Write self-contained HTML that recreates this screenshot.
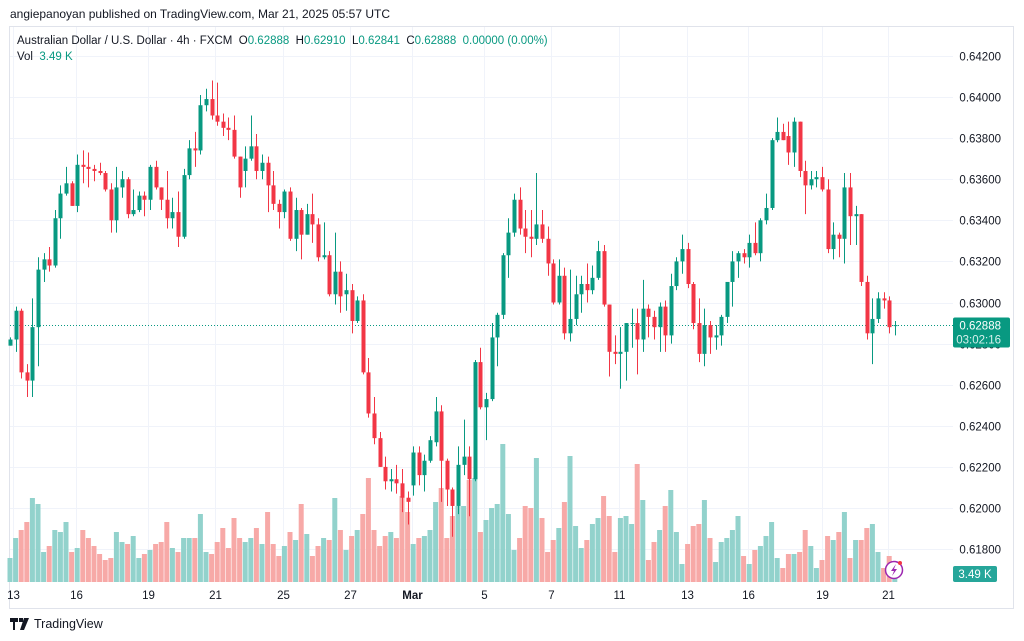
<!DOCTYPE html>
<html><head><meta charset="utf-8">
<style>
html,body{margin:0;padding:0;background:#fff;}
body{width:1024px;height:641px;overflow:hidden;position:relative;font-family:"Liberation Sans",sans-serif;color:#131722;}
#hdr{position:absolute;left:10px;top:7px;font-size:12px;color:#131722;}
#legend{position:absolute;left:17px;top:33px;font-size:11.5px;line-height:16px;color:#131722;}
#legend .g{color:#089981;}
#logo{position:absolute;left:10px;top:617px;font-size:12.5px;color:#131722;display:flex;align-items:center;gap:4px;}
svg{position:absolute;left:0;top:0;}
</style></head>
<body>
<div id="hdr">angiepanoyan published on TradingView.com, Mar 21, 2025 05:57 UTC</div>
<svg id="chart" width="1024" height="641"></svg>
<div id="legend">
<div>Australian Dollar / U.S. Dollar · 4h · FXCM &nbsp;O<span class="g">0.62888</span>&nbsp; H<span class="g">0.62910</span>&nbsp; L<span class="g">0.62841</span>&nbsp; C<span class="g">0.62888</span>&nbsp; <span class="g">0.00000 (0.00%)</span></div>
<div>Vol &nbsp;<span class="g">3.49 K</span></div>
</div>
<div id="logo"><svg width="20" height="12" style="position:static" viewBox="0 0 20 12"><path d="M0 0h8v4H5v8H3V4H0z M9 0h4v4H9z M14 0h5l-5 12h-4z" fill="#131722"/></svg><span>TradingView</span></div>
<script>
// prices in units of 0.0001 (e.g. 6289 = 0.62890)
const opens=[6279,6282,6296,6266,6262,6288,6316,6321,6318,6341,6353,6358,6347,6367,6366,6365,6364,6363,6355,6340,6356,6360,6343,6345,6352,6350,6366,6356,6350,6341,6344,6332,6362,6375,6374,6396,6399,6391,6388,6385,6384,6371,6364,6370,6376,6364,6368,6357,6348,6344,6354,6331,6345,6333,6343,6338,6322,6323,6304,6315,6304,6306,6291,6301,6266,6246,6234,6220,6213,6214,6212,6205,6211,6227,6216,6223,6232,6247,6223,6209,6201,6221,6225,6214,6271,6249,6253,6283,6294,6323,6334,6350,6336,6332,6331,6338,6331,6319,6300,6313,6285,6292,6304,6309,6306,6312,6325,6299,6276,6275,6276,6290,6290,6282,6297,6293,6288,6298,6284,6308,6320,6326,6309,6290,6275,6289,6283,6284,6293,6310,6320,6324,6322,6329,6324,6340,6346,6379,6383,6381,6373,6388,6364,6357,6360,6361,6355,6326,6333,6331,6356,6342,6343,6310,6285,6292,6302,6301,6289];
const highs=[6283,6298,6297,6270,6302,6322,6324,6327,6345,6357,6366,6359,6372,6374,6373,6367,6368,6364,6358,6366,6364,6361,6355,6354,6354,6367,6369,6356,6364,6351,6354,6365,6379,6383,6401,6404,6408,6407,6392,6390,6391,6371,6376,6391,6382,6372,6371,6364,6350,6355,6356,6351,6346,6348,6353,6341,6339,6325,6334,6320,6314,6309,6303,6304,6273,6254,6237,6225,6219,6221,6219,6208,6230,6230,6226,6235,6254,6250,6224,6210,6230,6243,6230,6272,6278,6256,6290,6295,6324,6341,6353,6356,6345,6345,6363,6345,6337,6321,6321,6317,6316,6313,6313,6319,6318,6330,6328,6299,6284,6288,6290,6297,6297,6311,6299,6296,6300,6301,6314,6322,6333,6329,6310,6302,6297,6291,6289,6294,6310,6325,6325,6326,6333,6339,6341,6353,6380,6390,6387,6388,6390,6388,6369,6364,6364,6366,6360,6339,6334,6363,6363,6347,6343,6313,6302,6305,6305,6303,6291];
const lows=[6279,6276,6263,6254,6254,6269,6310,6315,6317,6331,6352,6347,6344,6358,6356,6359,6362,6354,6334,6334,6351,6341,6342,6344,6342,6345,6355,6345,6336,6336,6327,6331,6360,6366,6372,6393,6389,6386,6381,6379,6370,6351,6356,6369,6360,6360,6344,6345,6336,6341,6330,6325,6321,6333,6329,6320,6321,6303,6299,6295,6296,6285,6290,6265,6244,6231,6220,6209,6208,6207,6198,6192,6206,6211,6208,6222,6230,6203,6201,6186,6197,6216,6196,6213,6248,6233,6252,6269,6292,6312,6332,6333,6324,6322,6328,6329,6313,6299,6299,6282,6281,6289,6295,6300,6304,6311,6298,6264,6270,6258,6262,6278,6265,6276,6283,6282,6276,6276,6280,6306,6314,6307,6287,6271,6269,6275,6277,6279,6290,6298,6312,6319,6317,6323,6320,6338,6345,6378,6379,6367,6366,6361,6343,6355,6356,6354,6324,6321,6322,6319,6328,6328,6308,6282,6270,6290,6297,6285,6284];
const closes=[6282,6296,6266,6262,6288,6316,6321,6318,6341,6353,6358,6347,6367,6366,6365,6364,6363,6355,6340,6356,6360,6343,6345,6352,6350,6366,6356,6350,6341,6344,6332,6362,6375,6374,6396,6399,6391,6388,6385,6384,6371,6356,6370,6376,6364,6368,6357,6348,6344,6354,6331,6345,6333,6343,6338,6322,6323,6304,6315,6303,6306,6291,6301,6266,6246,6234,6220,6213,6214,6212,6205,6203,6227,6216,6223,6233,6247,6223,6209,6201,6221,6225,6214,6271,6249,6253,6283,6294,6323,6334,6350,6336,6332,6331,6338,6331,6319,6300,6313,6285,6292,6304,6309,6306,6312,6325,6299,6276,6275,6276,6290,6290,6282,6297,6293,6288,6298,6284,6308,6320,6326,6309,6290,6275,6289,6283,6284,6293,6310,6320,6324,6322,6329,6324,6340,6346,6379,6383,6379,6373,6388,6364,6357,6360,6361,6355,6326,6333,6331,6356,6342,6343,6310,6285,6292,6302,6301,6288,6289];
// volume in thousands
const volumes=[12,22,26,30,42,39,15,18,26,25,30,15,17,26,22,18,14,11,12,25,20,19,23,12,14,16,19,20,30,17,15,22,22,22,34,15,14,20,27,17,32,22,20,22,27,19,35,19,13,18,25,21,39,24,13,18,22,21,42,26,16,23,26,34,52,26,18,23,25,22,43,35,19,22,23,26,40,47,22,33,38,38,51,52,25,31,37,39,69,34,16,22,38,37,62,32,15,21,27,40,63,28,17,21,29,32,43,33,15,32,33,29,59,41,11,20,26,38,46,25,9,19,28,29,41,22,10,20,22,26,33,13,9,16,18,23,30,12,7,14,14,15,26,18,7,11,23,21,25,35,12,21,21,27,29,15,7,13,3.5];
const priceTicks=[6420,6400,6380,6360,6340,6320,6300,6280,6260,6240,6220,6200,6180];
const dateLabels=["13","16","19","21","25","27","Mar","5","7","11","13","16","19","21"];
const dateIdx=[0.5,11.8,24.6,36.6,48.8,60.7,71.8,84.6,96.6,108.8,120.9,131.8,145,156.8];
const lastPrice=6288.8;
const lastVol=3.49;

const NS="http://www.w3.org/2000/svg";
const svg=document.getElementById('chart');
const PL=10,PR=953,PT=27,PB=582;
const xAt=i=>10+5.6*i;
const yP=p=>97+(6400-p)*2.055;
const yV=v=>PB-v*2;
function mk(t,a,parent){const e=document.createElementNS(NS,t);for(const k in a)e.setAttribute(k,a[k]);(parent||svg).appendChild(e);return e;}

// frame
let fr=mk('rect',{x:9.5,y:26.5,width:1004,height:582,fill:'none',stroke:'#e0e3eb'});


let ax=mk('line',{x1:PR+60.5,y1:27,x2:PR+60.5,y2:608,stroke:'#e0e3eb'});



// grid + price ticks
priceTicks.forEach(p=>{
  const y=Math.round(yP(p))+0.5;
  const g=mk('line',{x1:PL,x2:PR,y1:y,y2:y,stroke:'#f0f3fa'});
  
  
  const t=mk('text',{x:1001,y:y+4,'text-anchor':'end','font-size':11.5,fill:'#131722','font-family':'Liberation Sans, sans-serif'});
  t.textContent=(p/10000).toFixed(5);
  
  
});
dateIdx.forEach((d,k)=>{
  const x=Math.round(xAt(d))+0.5;
  const g=mk('line',{x1:x,x2:x,y1:PT,y2:PB,stroke:'#f0f3fa'});
  
  
  const t=mk('text',{x:x,y:599,'text-anchor':'middle','font-size':11.5,fill:'#131722','font-weight':dateLabels[k]==='Mar'?'bold':'normal','font-family':'Liberation Sans, sans-serif'});
  t.textContent=dateLabels[k];
  
  
});

// volume bars
volumes.forEach((v,i)=>{
  const up=closes[i]>=opens[i];
  const x=xAt(i);
  const r=mk('rect',{x:x-2.5,y:yV(v),width:5,height:PB-yV(v),fill:up?'#92d2cc':'#f7a9a7'});
  
  
});

// last price line
const ly=yP(lastPrice);
let pl=mk('line',{x1:PL,x2:PR,y1:ly,y2:ly,stroke:'#089981','stroke-dasharray':'1 2','stroke-width':1});



// candles
opens.forEach((o,i)=>{
  const c=closes[i],up=c>=o,col=up?'#089981':'#f23645';
  const x=Math.round(xAt(i))+0.5;
  const g=mk('g',{});
  
  
  mk('line',{x1:x,x2:x,y1:yP(highs[i]),y2:yP(lows[i]),stroke:col,'stroke-width':1},g);
  const t=yP(Math.max(o,c)),b=yP(Math.min(o,c));
  mk('rect',{x:x-2,y:t,width:4,height:Math.max(1,b-t),fill:col},g);
});

// price label
let pb=mk('rect',{x:953,y:ly-8,width:57,height:30,rx:2,fill:'#089981'});


let pt1=mk('text',{x:1001,y:ly+4,'text-anchor':'end','font-size':11.5,fill:'#fff','font-family':'Liberation Sans, sans-serif'});
pt1.textContent=(lastPrice/10000).toFixed(5);


let pt2=mk('text',{x:1001,y:ly+18,'text-anchor':'end','font-size':11.5,fill:'#d6f0ec','font-family':'Liberation Sans, sans-serif'});
pt2.textContent='03:02:16';



// volume badge
let vb=mk('rect',{x:953,y:566,width:44,height:16,rx:2,fill:'#26a69a'});


let vt=mk('text',{x:975,y:578,'text-anchor':'middle','font-size':11.5,fill:'#fff','font-family':'Liberation Sans, sans-serif'});
vt.textContent=lastVol.toFixed(2)+' K';



// lightning icon
const ig=mk('g',{});


mk('circle',{cx:894,cy:570,r:8.5,fill:'#fff',stroke:'#9c27b0','stroke-width':1.5},ig);
mk('path',{d:'M896 564 L891 571 L894 571 L892 576 L897 569 L894 569 Z',fill:'#9c27b0'},ig);
mk('circle',{cx:900,cy:563,r:2,fill:'#f23645'},ig);
</script>
</body></html>
